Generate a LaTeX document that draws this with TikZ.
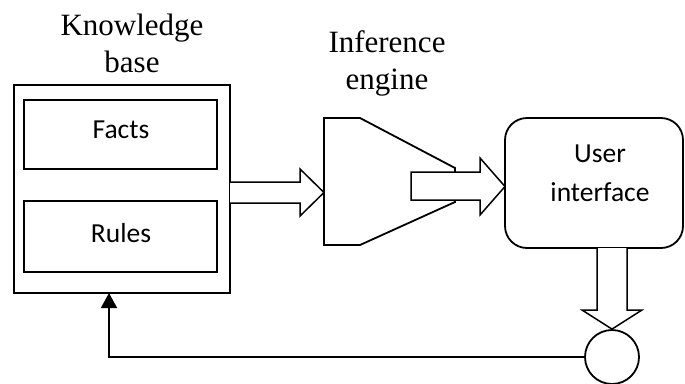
\documentclass[tikz,border=0pt]{standalone}
\usepackage{fontspec}
\setmainfont{Liberation Serif}
\newfontfamily\calfont{Carlito}
\usetikzlibrary{calc,arrows.meta}
\begin{document}
\begin{tikzpicture}[x=1pt,y=-1pt,line width=1.8pt,line join=miter]
\tikzset{
 box/.style={draw,inner sep=0pt,outer sep=0pt},
 title/.style={font=\fontsize{31}{37}\selectfont,align=center,inner sep=0pt},
 lab/.style={font=\calfont\fontsize{27.5}{39}\selectfont,align=center,inner sep=0pt},
 blockarrow/.style={draw,fill=white,line width=1.5pt},
 feedback/.style={line width=1.5pt,-{Triangle[width=16pt,length=15pt]}},
}
\useasboundingbox (0,0) rectangle (685,383);
% Knowledge base
\node[box,minimum width=216pt,minimum height=208pt] (kb) at (122,189) {};
\node[box,minimum width=193pt,minimum height=69pt] (facts) at (120.5,134.5) {};
\node[box,minimum width=193pt,minimum height=71pt] (rules) at (120.5,236.5) {};
\node[lab,anchor=base] (factst) at (121,138) {Facts};
\node[lab,anchor=base] (rulest) at (121,242) {Rules};
\node[title,anchor=base] (kbt) at (132,72) {Knowledge\\base};
% Inference engine
\coordinate (engin) at (324,192.5);
\draw (324,118) -- (360,118) -- (455,168) -- (455,202) -- (360,245) -- (324,245) -- cycle;
\node[title,anchor=base] (engt) at (387,89) {Inference\\engine};
% arrow KB -> engine
\draw[blockarrow] (kb.east |- 0,182) -- (300,182) -- (300,169) -- (engin) -- (300,216) -- (300,203) -- (kb.east |- 0,203);
% User interface
\node[box,rounded corners=22pt,minimum width=178pt,minimum height=130pt] (ui) at (594,183) {};
\node[lab,anchor=base] (uit) at (600,201) {User\\interface};
% arrow engine -> UI
\draw[blockarrow] (411,172) -- (480,172) -- (480,158) -- (ui.west |- 0,186.5) -- (480,215) -- (480,200) -- (411,200) -- cycle;
% circle
\node[draw,circle,minimum size=54pt,inner sep=0pt] (circ) at (612,357) {};
% arrow UI -> circle
\draw[blockarrow] (597,248) -- (597,310) -- (582,310) -- (circ.north) -- (642,310) -- (627,310) -- (627,248);
% feedback
\draw[feedback] (circ.west) -| ([xshift=-13pt]kb.south);
\end{tikzpicture}
\end{document}
